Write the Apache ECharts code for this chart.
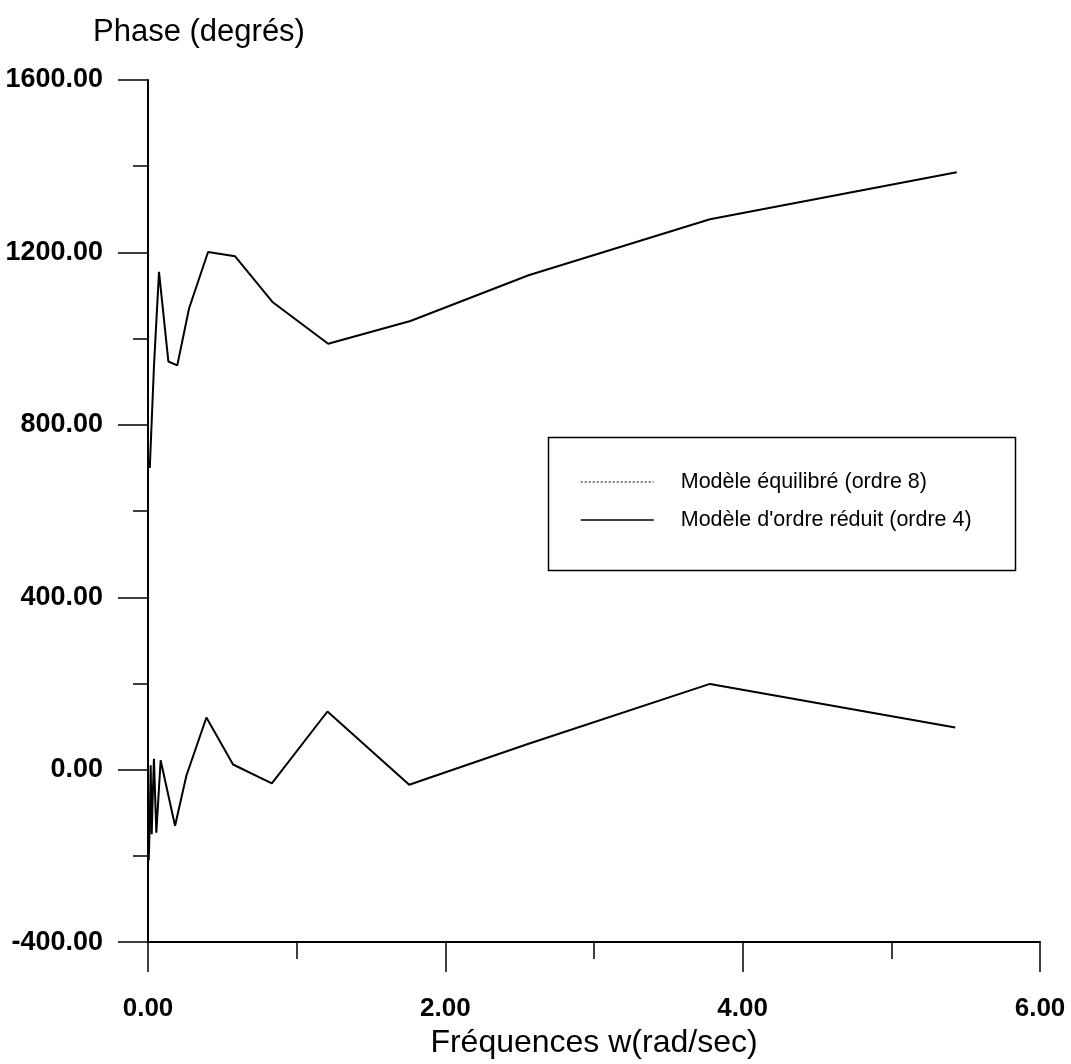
<!DOCTYPE html>
<html>
<head>
<meta charset="utf-8">
<script src="https://cdn.jsdelivr.net/npm/echarts@6/dist/echarts.min.js"></script>
<style>html,body{margin:0;padding:0;background:#fff}#c{width:1071px;height:1064px}</style>
</head>
<body>
<div id="c"></div>
<script>
// Data
const seriesNames = ['Modèle équilibré (ordre 8)', "Modèle d'ordre réduit (ordre 4)"];
const freqTop  = [0.012, 0.04, 0.074, 0.137, 0.197, 0.276, 0.404, 0.586, 0.837, 1.212, 1.765, 2.56, 3.78, 5.44];
const phaseTop = [700, 935, 1155, 947, 938, 1070, 1201, 1191, 1085, 988, 1041, 1147, 1277, 1386];
const freqBot  = [0.005, 0.012, 0.018, 0.025, 0.032, 0.04, 0.056, 0.085, 0.182, 0.258, 0.393, 0.572, 0.833, 1.207, 1.757, 2.56, 3.78, 5.43];
const phaseBot = [-210, -120, 10, -150, -60, 25, -146, 22, -130, -14, 121, 12, -32, 135, -35, 60, 199, 98];

const FONT = "'Liberation Sans', Arial, sans-serif";
const zip = (xs, ys) => xs.map((x, i) => [x, ys[i]]);
const chart = echarts.init(document.getElementById('c'));
const hidden = { color: 'rgba(0,0,0,0)', borderColor: 'rgba(0,0,0,0)', borderWidth: 0, opacity: 0 };
chart.setOption({
  animation: false,
  backgroundColor: '#fff',
  title: {
    text: 'Phase (degrés)', left: 88, top: 12,
    textStyle: { fontFamily: FONT, fontSize: 31, fontWeight: 'normal', color: '#000' }
  },
  grid: { left: 148, top: 80, right: 31, bottom: 116, containLabel: false },
  xAxis: {
    type: 'value', min: 0, max: 6, interval: 2,
    name: 'Fréquences w(rad/sec)', nameLocation: 'middle', nameGap: 74,
    nameTextStyle: { fontFamily: FONT, fontSize: 32, color: '#000' },
    axisLine: { onZero: false, lineStyle: { color: '#000', width: 2 } },
    axisTick: { show: true, length: 30, lineStyle: { color: '#000', width: 1.5 } },
    minorTick: { show: true, splitNumber: 2, length: 17, lineStyle: { color: '#000', width: 1.5 } },
    splitLine: { show: false },
    axisLabel: { margin: 54, fontFamily: FONT, fontSize: 26, fontWeight: 'bold', color: '#000',
      formatter: v => v.toFixed(2) }
  },
  yAxis: {
    type: 'value', min: -400, max: 1600, interval: 400,
    axisLine: { show: true, onZero: false, lineStyle: { color: '#000', width: 2 } },
    axisTick: { show: true, length: 30, lineStyle: { color: '#000', width: 1.5 } },
    minorTick: { show: true, splitNumber: 2, length: 15, lineStyle: { color: '#000', width: 1.5 } },
    splitLine: { show: false },
    axisLabel: { margin: 45, fontFamily: FONT, fontSize: 27, fontWeight: 'bold', color: '#000',
      formatter: v => v.toFixed(2) }
  },
  legend: {
    orient: 'vertical', left: 580, top: 471,
    itemWidth: 73, itemHeight: 20, itemGap: 16, padding: 0,
    textStyle: { fontFamily: FONT, fontSize: 21.5, color: '#000', padding: [0, 0, 0, 22] },
    data: [
      { name: seriesNames[0], itemStyle: hidden, lineStyle: { type: [2, 2], width: 1, color: '#000' } },
      { name: seriesNames[1], itemStyle: hidden, lineStyle: { type: 'solid', width: 1.5, color: '#000' } }
    ]
  },
  graphic: [
    { type: 'rect', left: 546, top: 435, shape: { width: 467, height: 133 },
      style: { fill: 'none', stroke: '#000', lineWidth: 1.5 }, z: 10 }
  ],
  series: [
    { name: seriesNames[0], type: 'line', data: zip(freqTop, phaseTop), symbol: 'none',
      lineStyle: { color: '#000', width: 2 }, itemStyle: { color: '#000' } },
    { name: seriesNames[1], type: 'line', data: zip(freqBot, phaseBot), symbol: 'none',
      lineStyle: { color: '#000', width: 2 }, itemStyle: { color: '#000' } }
  ]
});
</script>
</body>
</html>
